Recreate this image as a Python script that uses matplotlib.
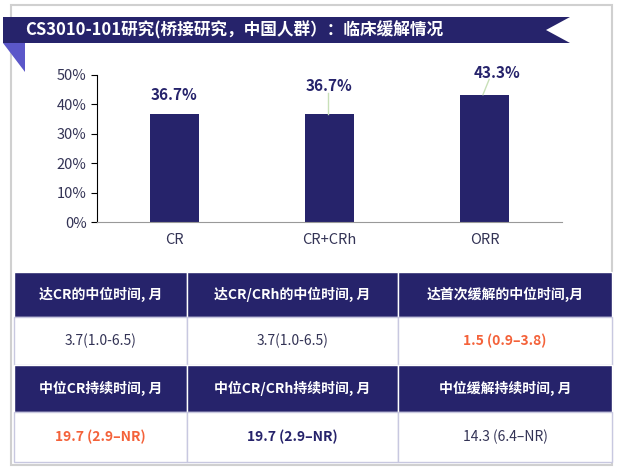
import matplotlib
matplotlib.use("Agg")
import matplotlib.pyplot as plt
from matplotlib.patches import Rectangle, Polygon

plt.rcParams['font.family'] = ['Noto Sans CJK SC', 'DejaVu Sans']

categories = ["CR", "CR+CRh", "ORR"]
values = [36.7, 36.7, 43.3]
value_labels = ["36.7%", "36.7%", "43.3%"]
yticks = [0, 10, 20, 30, 40, 50]
header1 = ["达CR的中位时间, 月", "达CR/CRh的中位时间, 月", "达首次缓解的中位时间,月"]
row1 = ["3.7(1.0-6.5)", "3.7(1.0-6.5)", "1.5 (0.9–3.8)"]
header2 = ["中位CR持续时间, 月", "中位CR/CRh持续时间, 月", "中位缓解持续时间, 月"]
row2 = ["19.7 (2.9–NR)", "19.7 (2.9–NR)", "14.3 (6.4–NR)"]
title = "CS3010-101研究(桥接研究，中国人群）：临床缓解情况"

W, H = 623, 469
NAVY = "#26236B"
ORANGE = "#F4623A"
fig = plt.figure(figsize=(W/100, H/100), dpi=100)
bg = fig.add_axes([0, 0, 1, 1])
bg.set_xlim(0, W); bg.set_ylim(H, 0); bg.axis("off")

# border
bg.add_patch(Rectangle((11, 5), 601, 460, fill=False, ec="#D0D0D0", lw=1.5))
# banner
bg.add_patch(Polygon([(3, 17), (570, 17), (546, 30), (570, 43), (3, 43)], closed=True, fc=NAVY, ec="none"))
bg.add_patch(Polygon([(3, 43), (25, 43), (25, 72)], closed=True, fc="#5B57C9", ec="none"))
bg.text(25, 30, title, color="white", fontsize=12, fontweight="bold", va="center", ha="left")

# table
cols = [14, 187, 398, 612]
rows = [272, 317, 365, 412, 462]
data = [(header1, True, None), (row1, False, [None, None, ORANGE]),
        (header2, True, None), (row2, False, [ORANGE, NAVY, None])]
for r, (texts, hdr, colors) in enumerate(data):
    y0, y1 = rows[r], rows[r+1]
    for c in range(3):
        x0, x1 = cols[c], cols[c+1]
        bg.add_patch(Rectangle((x0, y0), x1-x0, y1-y0, fc=NAVY if hdr else "white",
                               ec="#C8C8E0" if not hdr else "white", lw=1))
        if hdr:
            col, wt = "white", "bold"
        else:
            col = colors[c] if colors[c] else "#333355"
            wt = "bold" if colors[c] else "normal"
        bg.text((x0+x1)/2, (y0+y1)/2, texts[c], color=col, fontweight=wt,
                fontsize=10, ha="center", va="center")

# bar chart
ax = fig.add_axes([97/W, 1-222/H, (562-97)/W, (222-75)/H])
x = list(range(len(categories)))
ax.bar(x, values, width=0.32, color=NAVY)
ax.set_xlim(-0.5, 2.5); ax.set_ylim(0, 50)
ax.set_yticks(yticks)
ax.set_yticklabels([f"{t}%" for t in yticks], fontsize=10.5, color="#333355")
ax.set_xticks(x)
ax.set_xticklabels(categories, fontsize=10.5, color="#333355")
ax.tick_params(axis="x", length=0, pad=8)
ax.tick_params(axis="y", length=4, direction="out")
for s in ["top", "right"]:
    ax.spines[s].set_visible(False)
ax.spines["bottom"].set_color("#999999")
label_pos = [(0, 43.2), (1, 46.3), (2.08, 50.8)]
for i, (lx, ly) in enumerate(label_pos):
    ax.text(lx, ly, value_labels[i], ha="center", va="center", fontsize=11,
            fontweight="bold", color=NAVY, clip_on=False)
    if i > 0:
        ax.plot([i - 0.01 + (0.04 if i == 2 else 0), i - 0.01], [ly - 2.3, values[i]],
                color="#C8E0B8", lw=1, clip_on=False)

fig.savefig("out.png", dpi=100)
